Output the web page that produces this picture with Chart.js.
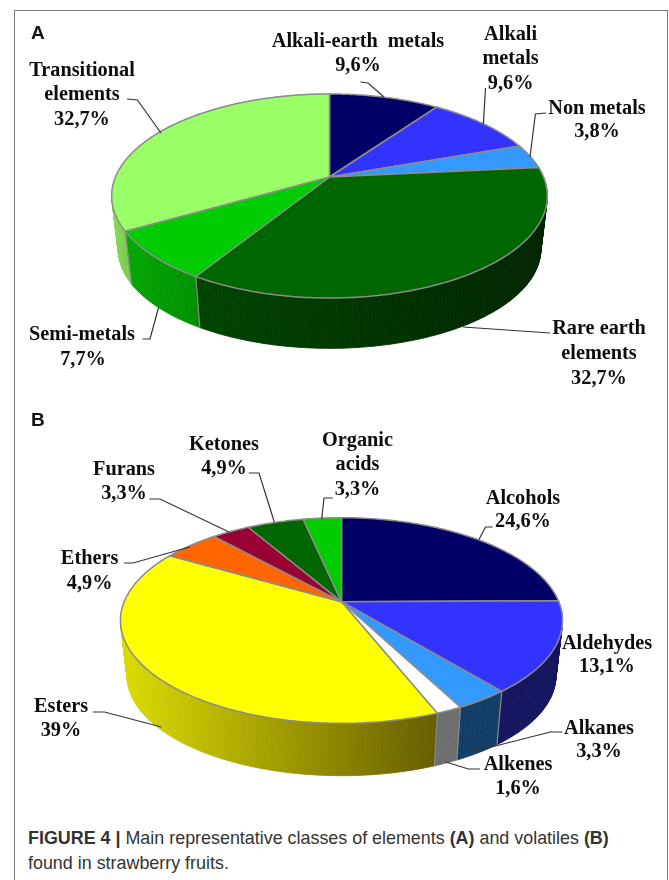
<!DOCTYPE html>
<html>
<head>
<meta charset="utf-8">
<script src="https://cdn.jsdelivr.net/npm/chart.js@4/dist/chart.umd.min.js"></script>
<style>
  html, body { margin: 0; padding: 0; background: #fff; }
  #page { position: relative; width: 669px; height: 880px; overflow: hidden; }
  #frame { position: absolute; left: 14px; top: 10px; width: 652px; height: 880px; border: 1.5px solid #7a7a7a; }
  canvas { position: absolute; left: 0; }
  .lab { position: absolute; transform: translate(-50%, -50%); white-space: pre; font: bold 20.3px "Liberation Serif", serif; color: #0d0d0d; line-height: 1; }
  .panel { position: absolute; transform: translateY(-50%); font: bold 19px "Liberation Sans", sans-serif; color: #111; }
  #caption { position: absolute; left: 28px; top: 826px; width: 630px; white-space: nowrap; font: 17.9px/24.5px "Liberation Sans", sans-serif; color: #333; }
</style>
</head>
<body>
<div id="page">
  <div id="frame"></div>
  <canvas id="pieA" width="669" height="400" style="top:0"></canvas>
  <canvas id="pieB" width="669" height="400" style="top:400px"></canvas>
  <div class="panel" style="left:31px;top:33px">A</div>
  <div class="panel" style="left:31px;top:420px">B</div>
  <div id="caption"><b>FIGURE 4 |</b> Main representative classes of elements <b>(A)</b> and volatiles <b>(B)</b><br>found in strawberry fruits.</div>
</div>
<script>
// panel A
const labelsA = ['Alkali-earth  metals', 'Alkali metals', 'Non metals', 'Rare earth elements', 'Semi-metals', 'Transitional elements'];
// rare earth is printed as 32,7% but the slice is drawn bigger, value read from the slice
const valuesA = [9.6, 9.6, 3.8, 34.7, 7.7, 32.7];
const printedA = ['9,6%', '9,6%', '3,8%', '32,7%', '7,7%', '32,7%'];
const colorsA = ['#000066', '#3333ff', '#3399ff', '#006600', '#00cc00', '#99ff66'];
const sideA = [['#000044', '#000044'], ['#2222aa', '#2222aa'], ['#2266aa', '#2266aa'], ['#004400', '#002400'], ['#00a800', '#009000'], ['#8ade5c', '#7ccc50']];

// panel B
const labelsB = ['Alcohols', 'Aldehydes', 'Alkanes', 'Alkenes', 'Esters', 'Ethers', 'Furans', 'Ketones', 'Organic acids'];
// same thing for aldehydes, printed 13,1%
const valuesB = [24.6, 14.1, 3.3, 1.6, 39, 4.9, 3.3, 4.9, 3.3];
const printedB = ['24,6%', '13,1%', '3,3%', '1,6%', '39%', '4,9%', '3,3%', '4,9%', '3,3%'];
const colorsB = ['#000066', '#3333ff', '#3399ff', '#ffffff', '#ffff00', '#ff6600', '#990033', '#006600', '#00cc00'];
const sideB = [['#000044', '#000044'], ['#14145f', '#14145f'], ['#123d66', '#123d66'], ['#6e6e6e', '#6e6e6e'], ['#dcdc00', '#665c00'], ['#aa4400', '#aa4400'], ['#660022', '#660022'], ['#004400', '#004400'], ['#008800', '#008800']];

const geomA = { cx: 329.5, cy: 177, a: 214, b: 98.5, p: 0.186, depth: 54, shrink: 0.97 };
const geomB = { cx: 341.5, cy: 201.7, a: 217.3, b: 99.4, p: 0.183, depth: 56, shrink: 0.97 };

// label centres, one entry per line: [text, x, y]
const textA = [
  [labelsA[0], 358, 40], [printedA[0], 358, 64],
  ['Alkali', 510.6, 33], ['metals', 510.6, 57], [printedA[1], 510.6, 82],
  [labelsA[2], 597, 107], [printedA[2], 597, 130],
  ['Rare earth', 599, 327], ['elements', 599, 352], [printedA[3], 599, 377],
  [labelsA[4], 82, 333], [printedA[4], 83, 358],
  ['Transitional', 82, 69], ['elements', 82, 93], [printedA[5], 82, 118]
];
const textB = [
  [labelsB[0], 523, 497], [printedB[0], 523, 520],
  [labelsB[1], 607, 642], [printedB[1], 607, 665],
  [labelsB[2], 599, 727], [printedB[2], 599, 750],
  [labelsB[3], 518, 763], [printedB[3], 518, 787],
  [labelsB[4], 61, 705], [printedB[4], 61, 729],
  [labelsB[5], 89.6, 557], [printedB[5], 89.6, 582],
  [labelsB[6], 124, 468], [printedB[6], 124, 492],
  [labelsB[7], 224, 443], [printedB[7], 224, 467],
  ['Organic', 357.5, 439], ['acids', 357.5, 463], [printedB[8], 357.5, 488]
];

// leader lines, canvas coordinates
const leadersA = [
  [[360.5, 82], [368, 83], [384, 97]],
  [[485.5, 88], [483.4, 124]],
  [[546, 113], [535.4, 114], [530, 157]],
  [[550, 333], [463, 327]],
  [[142.5, 339], [150, 339], [158.7, 307]],
  [[127, 99], [137.4, 100], [161, 133]]
];
const leadersB = [
  [[492.7, 127], [485.5, 127], [478.7, 140]],
  [[562.3, 332], [550.3, 332], [475.7, 351]],
  [[480, 369], [468.4, 369], [445.8, 362]],
  [[93, 312], [104.5, 312], [161.3, 327]],
  [[123.7, 163], [133, 163], [189.8, 147]],
  [[149.3, 99], [160, 99], [229, 132]],
  [[248.7, 73], [259, 73], [274.3, 122]],
  [[332.8, 98], [324, 98], [321.7, 119]]
];

// circle point -> screen, the pie is seen in perspective so the hub is above the ellipse centre
function project(g, ang, low) {
  const u = Math.cos(ang), v = Math.sin(ang);
  const w = 1 - g.p * v;
  const k = low ? g.shrink : 1;
  return [g.cx + k * g.a * u / w, g.cy + k * g.b * v / w + (low ? g.depth : 0)];
}

function arcPoints(g, start, end, low) {
  const pts = [];
  const n = Math.max(2, Math.ceil((end - start) / 0.015));
  for (let i = 0; i <= n; i++) pts.push(project(g, start + (end - start) * i / n, low));
  return pts;
}

function tracePath(ctx, pts) {
  pts.forEach((p, i) => { if (i) ctx.lineTo(p[0], p[1]); else ctx.moveTo(p[0], p[1]); });
}

const pie3d = {
  id: 'pie3d',
  beforeDatasetDraw(chart) {
    const ctx = chart.ctx;
    const opt = chart.options.plugins.pie3d;
    const g = opt.geom;
    const arcs = chart.getDatasetMeta(0).data;
    ctx.save();

    // walls first, the top face covers the back of them
    arcs.forEach((arc, i) => {
      const top = arcPoints(g, arc.startAngle, arc.endAngle, false);
      const low = arcPoints(g, arc.startAngle, arc.endAngle, true);
      const xs = top.filter(p => p[1] > g.cy).map(p => p[0]);
      if (!xs.length) return;
      const grad = ctx.createLinearGradient(Math.min(...xs), 0, Math.max(...xs), 0);
      grad.addColorStop(0, opt.side[i][0]);
      grad.addColorStop(1, opt.side[i][1]);
      ctx.fillStyle = grad;
      ctx.strokeStyle = grad;
      ctx.lineWidth = 0.8;
      // small quads, one big polygon leaves out the sliver at the left and right edge of the pie
      // the thin stroke hides the seams between them
      for (let j = 0; j < top.length - 1; j++) {
        ctx.beginPath();
        tracePath(ctx, [top[j], top[j + 1], low[j + 1], low[j]]);
        ctx.closePath();
        ctx.fill();
        ctx.stroke();
      }
    });
    ctx.strokeStyle = '#8a8a8a';
    ctx.lineWidth = 1.2;
    arcs.forEach(arc => {
      const a = project(g, arc.startAngle, false), b = project(g, arc.startAngle, true);
      if (a[1] < g.cy) return;
      ctx.beginPath();
      ctx.moveTo(a[0], a[1]);
      ctx.lineTo(b[0], b[1]);
      ctx.stroke();
    });

    // top face
    arcs.forEach((arc, i) => {
      ctx.beginPath();
      ctx.moveTo(g.cx, g.cy);
      arcPoints(g, arc.startAngle, arc.endAngle, false).forEach(p => ctx.lineTo(p[0], p[1]));
      ctx.closePath();
      ctx.fillStyle = opt.colors[i];
      ctx.fill();
      ctx.lineWidth = 1.5;
      ctx.strokeStyle = '#8c8c8c';
      ctx.stroke();
    });

    // leaders
    ctx.strokeStyle = '#333';
    ctx.lineWidth = 1.2;
    opt.leaders.forEach(line => {
      ctx.beginPath();
      tracePath(ctx, line);
      ctx.stroke();
    });
    ctx.restore();
    return false;
  }
};

function makePie(id, labels, values, colors, side, geom, leaders) {
  new Chart(document.getElementById(id), {
    type: 'pie',
    plugins: [pie3d],
    data: {
      labels: labels,
      datasets: [{ data: values, backgroundColor: colors }]
    },
    options: {
      responsive: false,
      animation: false,
      devicePixelRatio: 1,
      plugins: {
        legend: { display: false },
        tooltip: { enabled: false },
        pie3d: { geom: geom, colors: colors, side: side, leaders: leaders }
      }
    }
  });
}

function addText(rows) {
  rows.forEach(r => {
    const el = document.createElement('div');
    el.className = 'lab';
    el.textContent = r[0];
    el.style.left = r[1] + 'px';
    el.style.top = r[2] + 'px';
    document.getElementById('page').appendChild(el);
  });
}

makePie('pieA', labelsA, valuesA, colorsA, sideA, geomA, leadersA);
makePie('pieB', labelsB, valuesB, colorsB, sideB, geomB, leadersB);
addText(textA);
addText(textB);
</script>
</body>
</html>
